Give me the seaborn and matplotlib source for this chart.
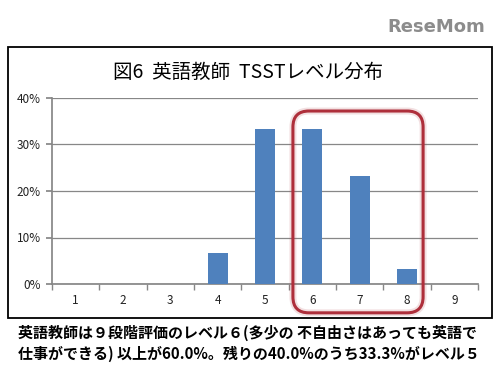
import matplotlib
matplotlib.use("Agg")
import matplotlib.pyplot as plt
import seaborn as sns
import pandas as pd
from matplotlib.patches import Rectangle, FancyBboxPatch
from matplotlib.transforms import IdentityTransform

sns.set_theme(style="white")
plt.rcParams['font.family'] = ['Noto Sans CJK JP', 'DejaVu Sans']

levels = ["1", "2", "3", "4", "5", "6", "7", "8", "9"]
shares = [0.0, 0.0, 0.0, 6.7, 33.3, 33.3, 23.3, 3.3, 0.0]
yticks = [0, 10, 20, 30, 40]
ytick_labels = ["0%", "10%", "20%", "30%", "40%"]
title = "図6  英語教師  TSSTレベル分布"
caption1 = "英語教師は９段階評価のレベル６(多少の 不自由さはあっても英語で"
caption2 = "仕事ができる) 以上が60.0%。残りの40.0%のうち33.3%がレベル５"

df = pd.DataFrame({"level": levels, "share": shares})

W, H = 500, 380
fig = plt.figure(figsize=(W / 100, H / 100), dpi=100)
fig.patch.set_facecolor("white")

# chart frame
fig.add_artist(Rectangle((8 / W, 1 - 318 / H), (492 - 8) / W, (318 - 47) / H,
                         transform=fig.transFigure, fill=False, edgecolor="black", lw=1.3))

ax = fig.add_axes([52 / W, 1 - 284 / H, (478 - 52) / W, (284 - 98) / H])
sns.barplot(data=df, x="level", y="share", color="#4F81BD", saturation=1,
            width=0.42, ax=ax, zorder=3, linewidth=0)
ax.set_ylim(0, 40)
ax.set_xlim(-0.5, 8.5)
ax.set_yticks(yticks)
ax.set_yticklabels(ytick_labels, fontsize=8.5, color="#222222")
ax.set_xticks(range(len(levels)))
ax.set_xticklabels(levels, fontsize=8.5, color="#222222")
ax.set_xlabel("")
ax.set_ylabel("")
for s in ["top", "right"]:
    ax.spines[s].set_visible(False)
ax.spines["left"].set_color("#878787")
ax.spines["bottom"].set_color("#878787")
ax.yaxis.grid(True, color="#878787", lw=0.9)
ax.set_axisbelow(True)
ax.tick_params(axis="x", length=0, pad=7)
ax.tick_params(axis="y", length=4, color="#878787", left=True, pad=4)
# minor ticks between categories
ax.set_xticks([i + 0.5 for i in range(-1, len(levels))], minor=True)
ax.tick_params(axis="x", which="minor", length=4, color="#878787", bottom=True)

fig.text(248 / W, 1 - 72 / H, title, ha="center", va="center", fontsize=14, color="black")

# rounded highlight box around levels 6-8
fig.canvas.draw()
x0, y0 = ax.transData.transform((4.59, -6.2))
x1, y1 = ax.transData.transform((7.34, 37.2))
for lw, alpha in [(5, 0.15), (2.2, 1.0)]:
    box = FancyBboxPatch((x0, y0), x1 - x0, y1 - y0,
                         boxstyle="round,pad=0,rounding_size=16",
                         transform=IdentityTransform(), fill=False,
                         edgecolor="#AE2F3B", lw=lw, alpha=alpha, zorder=5)
    fig.add_artist(box)

# logo
fig.text(485 / W, 1 - 27 / H, "ReseMom", ha="right", va="center", fontsize=13,
         fontweight="bold", color="#8C8C8C", family=["DejaVu Sans"])

fig.text(18 / W, 1 - 333 / H, caption1, ha="left", va="center", fontsize=10.8,
         fontweight="bold", color="black")
fig.text(18 / W, 1 - 354 / H, caption2, ha="left", va="center", fontsize=10.8,
         fontweight="bold", color="black")

fig.savefig("out.png", dpi=100, facecolor="white")
